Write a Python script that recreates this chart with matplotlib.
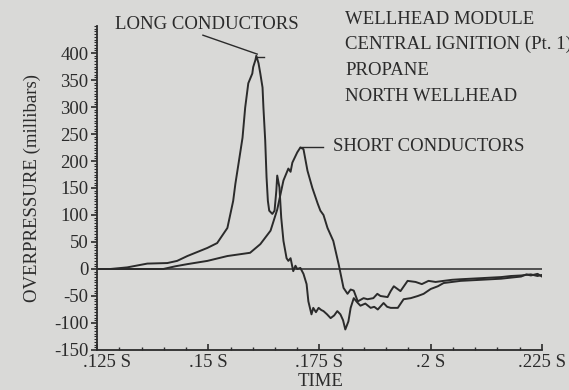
#!/usr/bin/env python3

import matplotlib

matplotlib.use("Agg")
import matplotlib.pyplot as plt
from matplotlib.ticker import MultipleLocator
from matplotlib.transforms import ScaledTranslation

# time in seconds, overpressure in millibars
long_t = [0.1250, 0.1280, 0.1318, 0.1363, 0.1408, 0.1430, 0.1453, 0.1498, 0.1520,
          0.1543, 0.1556, 0.1561, 0.1568, 0.1577, 0.1583, 0.1590, 0.1599, 0.1601,
          0.1606, 0.1608, 0.1613, 0.1617, 0.1622, 0.1624, 0.1628, 0.1631, 0.1634,
          0.1637, 0.1644, 0.1649, 0.1653, 0.1655, 0.1660, 0.1664, 0.1669, 0.1676,
          0.1680, 0.1685, 0.1691, 0.1696, 0.1700, 0.1707, 0.1714, 0.1721, 0.1725,
          0.1732, 0.1736, 0.1742, 0.1748, 0.1754, 0.1759, 0.1767, 0.1775, 0.1783,
          0.1790, 0.1797, 0.1803, 0.1808, 0.1815, 0.1820, 0.1827, 0.1835, 0.1842,
          0.1853, 0.1865, 0.1873, 0.1881, 0.1894, 0.1902, 0.1910, 0.1926, 0.1939,
          0.1955, 0.1971, 0.1984, 0.2000, 0.2016, 0.2029, 0.2048, 0.2067, 0.2090,
          0.2113, 0.2135, 0.2158, 0.2180, 0.2203, 0.2215, 0.2225, 0.2240, 0.2250]
long_v = [0, 0, 3, 10, 11, 15, 24, 39, 48,
          76, 126, 158, 195, 243, 299, 344, 362, 374,
          387, 395, 381, 362, 336, 299, 238, 170, 126,
          108, 102, 108, 145, 173, 151, 95, 52, 20,
          15, 20, -4, 6, 0, 2, -9, -28, -60,
          -84, -72, -80, -72, -76, -78, -84, -91, -86,
          -78, -84, -95, -112, -97, -72, -54, -62, -68,
          -64, -72, -70, -75, -63, -70, -72, -72, -56,
          -54, -50, -46, -37, -32, -26, -24, -22, -21,
          -20, -19, -18, -16, -14, -10, -12, -9, -14]

short_t = [0.1250, 0.1399, 0.1426, 0.1453, 0.1498, 0.1543, 0.1594, 0.1617, 0.1640,
           0.1655, 0.1669, 0.1680, 0.1685, 0.1689, 0.1700, 0.1707, 0.1714, 0.1723,
           0.1734, 0.1746, 0.1752, 0.1759, 0.1768, 0.1781, 0.1793, 0.1804, 0.1813,
           0.1820, 0.1827, 0.1836, 0.1849, 0.1858, 0.1871, 0.1880, 0.1887, 0.1903,
           0.1910, 0.1917, 0.1932, 0.1948, 0.1966, 0.1980, 0.1995, 0.2011, 0.2029,
           0.2048, 0.2067, 0.2090, 0.2113, 0.2135, 0.2158, 0.2180, 0.2203, 0.2225,
           0.2240, 0.2250]
short_v = [0, 0, 5, 9, 15, 24, 30, 46, 71,
           110, 164, 186, 180, 197, 216, 225, 222, 182,
           150, 121, 108, 100, 76, 52, 9, -35, -46,
           -38, -40, -60, -54, -56, -54, -46, -50, -52,
           -41, -32, -41, -22, -24, -28, -22, -24, -22,
           -20, -19, -18, -17, -16, -15, -13, -12, -10,
           -13, -11]

x_ticks = [0.125, 0.15, 0.175, 0.2, 0.225]
x_tick_labels = [".125 S", ".15 S", ".175 S", ".2 S", ".225 S"]
y_ticks = [-150, -100, -50, 0, 50, 100, 150, 200, 250, 300, 350, 400]

info_lines = ["WELLHEAD MODULE", "CENTRAL IGNITION (Pt. 1)", "PROPANE", "NORTH WELLHEAD"]

bg = "#d9d9d7"
ink = "#2b2b2b"

plt.rcParams["font.family"] = ["Liberation Serif", "DejaVu Serif"]
plt.rcParams["font.size"] = 13.5
plt.rcParams["axes.unicode_minus"] = False

fig = plt.figure(figsize=(5.69, 3.90), dpi=100, facecolor=bg)
ax = fig.add_axes([0.1705, 0.1026, 0.782, 0.8307], facecolor=bg)

ax.plot(long_t, long_v, color=ink, lw=1.4)
ax.plot(short_t, short_v, color=ink, lw=1.4)
ax.axhline(0, color=ink, lw=1.1)

ax.set_xlim(0.125, 0.225)
ax.set_ylim(-150, 450)
ax.spines["top"].set_visible(False)
ax.spines["right"].set_visible(False)
for side in ("left", "bottom"):
    ax.spines[side].set_color(ink)
    ax.spines[side].set_linewidth(1.3)

ax.set_xticks(x_ticks)
ax.set_xticklabels(x_tick_labels)
ax.set_yticks(y_ticks)
ax.xaxis.set_minor_locator(MultipleLocator(0.005))
ax.yaxis.set_minor_locator(MultipleLocator(5))
ax.tick_params(axis="x", which="major", direction="in", length=4, width=1.2,
               color=ink, labelcolor=ink, pad=3)
ax.tick_params(axis="x", which="minor", direction="in", length=2.5, width=1.0, color=ink)
ax.tick_params(axis="y", which="major", direction="out", length=4, width=1.2,
               color=ink, labelcolor=ink, pad=2)
ax.tick_params(axis="y", which="minor", direction="out", length=2.5, width=0.8, color=ink)
# first time label sits a little right of the corner, clear of "-150"
first = ax.get_xticklabels()[0]
first.set_transform(first.get_transform() + ScaledTranslation(0.10, 0, fig.dpi_scale_trans))

ax.set_xlabel("TIME", color=ink)
ax.xaxis.set_label_coords(0.503, -0.070)
ax.set_ylabel("OVERPRESSURE (millibars)", color=ink)
ax.yaxis.set_label_coords(-0.127, 0.5)

# LONG CONDUCTORS label and its leader line
ax.text(0.1497, 452, "LONG CONDUCTORS", ha="center", va="center", color=ink)
ax.plot([0.1488, 0.1610], [433, 398], color=ink, lw=1.0, clip_on=False)
ax.plot([0.1610, 0.1625], [392, 392], color=ink, lw=1.0)

# SHORT CONDUCTORS label and its leader line
ax.plot([0.1707, 0.1758], [226, 226], color=ink, lw=1.0)
ax.text(0.1780, 227, "SHORT CONDUCTORS", ha="left", va="center", color=ink)

for i, line in enumerate(info_lines):
    fig.text(345 / 569, 1 - (19 + i * 25.7) / 390, line, ha="left", va="center",
             color=ink)

fig.savefig("out.png", dpi=100, facecolor=bg)
